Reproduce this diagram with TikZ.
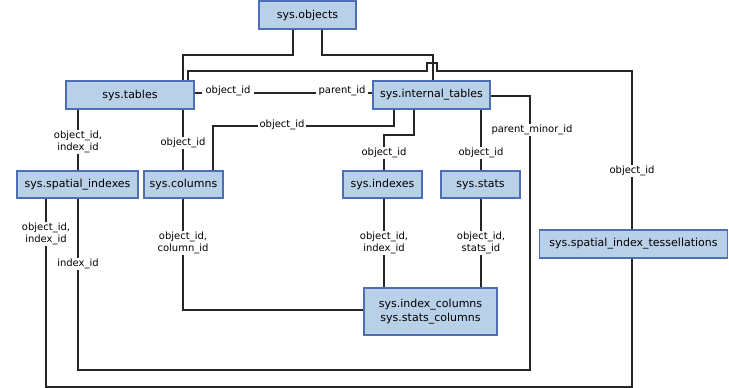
\documentclass[tikz,border=0pt]{standalone}
\usepackage{fontspec}
\setmainfont{DejaVu Sans}
\definecolor{boxfill}{RGB}{185,209,232}
\definecolor{boxline}{RGB}{79,110,181}
\begin{document}
\begin{tikzpicture}[x=1pt,y=-1pt,
  tbl/.style={draw=boxline,fill=boxfill,line width=1.1pt,inner sep=0pt,
    font=\fontsize{11}{13.5}\selectfont,align=center,minimum height=28pt},
  conn/.style={line width=1.5pt,black!85},
  lbl/.style={fill=white,inner xsep=2pt,inner ysep=1pt,
    font=\fontsize{10}{12.5}\selectfont,align=center}]
\useasboundingbox (0,0) rectangle (729,388);
% tables
\node[tbl,minimum width=97pt] (obj) at (307.5,15) {sys.objects};
\node[tbl,minimum width=128pt] (tab) at (130,95) {sys.tables};
\node[tbl,minimum width=117pt] (itab) at (431.5,95) {sys.internal\_tables};
\node[tbl,minimum width=121pt,minimum height=27pt] (sidx) at (77.5,184.5) {sys.spatial\_indexes};
\node[tbl,minimum width=79pt,minimum height=27pt] (col) at (183.5,184.5) {sys.columns};
\node[tbl,minimum width=79pt,minimum height=27pt] (idx) at (382.5,184.5) {sys.indexes};
\node[tbl,minimum width=79pt,minimum height=27pt] (sts) at (480.5,184.5) {sys.stats};
\node[tbl,minimum width=188pt] (tess) at (633.5,244) {sys.spatial\_index\_tessellations};
\node[tbl,minimum width=133pt,minimum height=47pt] (icol) at (430.5,311.5) {sys.index\_columns\\sys.stats\_columns};
% connectors
\draw[conn] (293,0 |- obj.south) -- (293,55) -- (183,55) -- (183,0 |- tab.north);
\draw[conn] (322,0 |- obj.south) -- (322,55) -- (433,55) -- (433,0 |- itab.north);
\draw[conn] (188,0 |- tab.north) -- (188,71) -- (427,71) -- (427,63) -- (437,63) -- (437,71) -- (632,71) -- (632,0 |- tess.north);
\draw[conn] (46,0 |- sidx.south) -- (46,387) -- (632,387) -- (632,0 |- tess.south);
\draw[conn] (tab.east |- 0,93) -- (itab.west |- 0,93);
\draw[conn] (78,0 |- tab.south) -- (78,0 |- sidx.north);
\draw[conn] (183,0 |- tab.south) -- (183,0 |- col.north);
\draw[conn] (394,0 |- itab.south) -- (394,126) -- (213,126) -- (213,0 |- col.north);
\draw[conn] (414,0 |- itab.south) -- (414,135) -- (384,135) -- (384,0 |- idx.north);
\draw[conn] (481,0 |- itab.south) -- (481,0 |- sts.north);
\draw[conn] (itab.east |- 0,96) -- (530,96) -- (530,370) -- (78,370) -- (78,0 |- sidx.south);
\draw[conn] (183,0 |- col.south) -- (183,310) -- (icol.west |- 0,310);
\draw[conn] (384,0 |- idx.south) -- (384,0 |- icol.north);
\draw[conn] (481,0 |- sts.south) -- (481,0 |- icol.north);
% labels
\node[lbl] (l1) at (632,171) {object\_id};
\node[lbl] (l2) at (46,234) {object\_id,\\index\_id};
\node[lbl,inner xsep=4pt] (l3) at (228,91) {object\_id};
\node[lbl,inner xsep=3pt] (l4) at (342,91) {parent\_id};
\node[lbl] (l5) at (78,142) {object\_id,\\index\_id};
\node[lbl] (l6) at (183,143) {object\_id};
\node[lbl] (l7) at (282,125) {object\_id};
\node[lbl] (l8) at (384,153) {object\_id};
\node[lbl] (l9) at (481,153) {object\_id};
\node[lbl] (l10) at (532,130) {parent\_minor\_id};
\node[lbl] (l11) at (78,264) {index\_id};
\node[lbl] (l12) at (183,243) {object\_id,\\column\_id};
\node[lbl] (l13) at (384,243) {object\_id,\\index\_id};
\node[lbl] (l14) at (481,243) {object\_id,\\stats\_id};
\end{tikzpicture}
\end{document}
